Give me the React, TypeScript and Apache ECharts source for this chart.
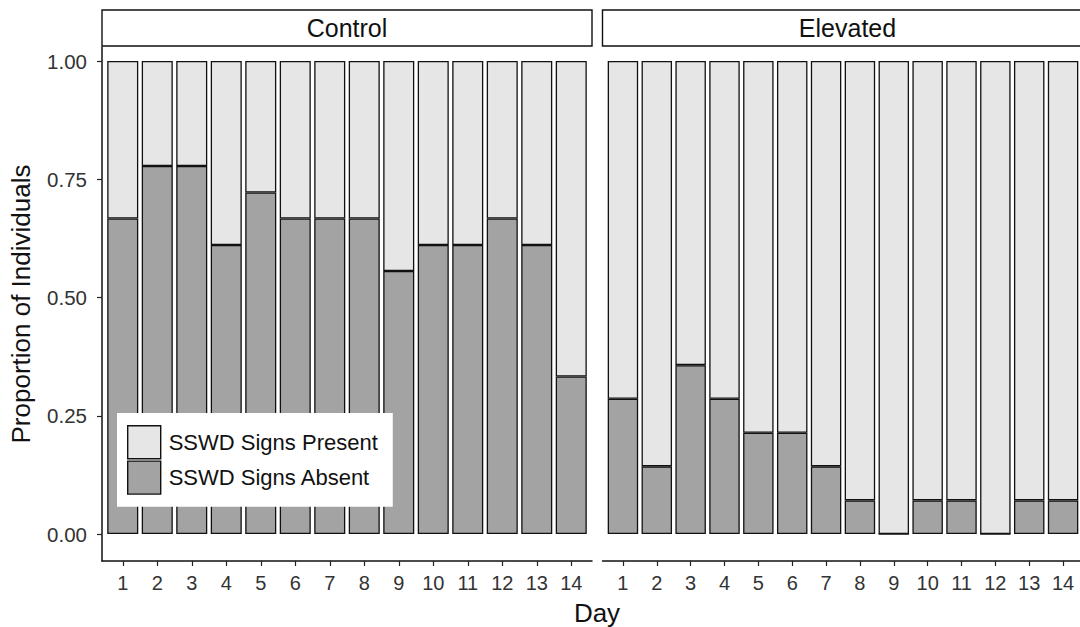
import React, { useEffect, useRef } from "react";
import * as echarts from "echarts";

const days = ["1", "2", "3", "4", "5", "6", "7", "8", "9", "10", "11", "12", "13", "14"];
const panels = ["Control", "Elevated"];
const controlAbsent = [0.667, 0.778, 0.778, 0.611, 0.722, 0.667, 0.667, 0.667, 0.556, 0.611, 0.611, 0.667, 0.611, 0.333];
const controlPresent = [0.333, 0.222, 0.222, 0.389, 0.278, 0.333, 0.333, 0.333, 0.444, 0.389, 0.389, 0.333, 0.389, 0.667];
const elevatedAbsent = [0.286, 0.143, 0.357, 0.286, 0.214, 0.214, 0.143, 0.071, 0, 0.071, 0.071, 0, 0.071, 0.071];
const elevatedPresent = [0.714, 0.857, 0.643, 0.714, 0.786, 0.786, 0.857, 0.929, 1, 0.929, 0.929, 1, 0.929, 0.929];
const seriesNames = ["SSWD Signs Present", "SSWD Signs Absent"];
const yTicks = [0, 0.25, 0.5, 0.75, 1];

const FONT = "'Liberation Sans', Arial, Helvetica, sans-serif";
const LIGHT = "#E6E6E6";
const DARK = "#A3A3A3";
const TICK_COLOR = "#333333";

export default function App() {
  const ref = useRef<HTMLDivElement>(null);

  useEffect(() => {
    if (!ref.current) return;
    const chart = echarts.init(ref.current, null, { renderer: "svg" });

    const panelLeft = [102, 602.5];
    const panelWidth = 490;
    const panelTop = 47;
    const panelBottom = 561;
    const inset = 3.5;
    const barTop = 61;
    const zeroY = 534;
    const unit = zeroY - barTop; // pixels per 1.0
    const yLow = -(panelBottom - zeroY) / unit;

    const grids: any[] = [];
    const xAxes: any[] = [];
    const yAxes: any[] = [];
    const series: any[] = [];
    const graphics: any[] = [];

    const absent = [controlAbsent, elevatedAbsent];
    const present = [controlPresent, elevatedPresent];

    panels.forEach((p, i) => {
      // inner grid for bars
      grids.push({
        left: panelLeft[i] + inset,
        top: barTop,
        width: panelWidth - 2 * inset,
        height: panelBottom - barTop,
      });
      xAxes.push({
        type: "category",
        gridIndex: i,
        data: days,
        position: "bottom",
        axisLine: { show: false, onZero: false },
        axisTick: {
          show: true,
          alignWithLabel: true,
          length: 5,
          lineStyle: { color: "#222", width: 1.2 },
        },
        axisLabel: {
          show: true,
          color: TICK_COLOR,
          fontSize: 20,
          fontFamily: FONT,
          margin: 12,
        },
        splitLine: { show: false },
      });
      yAxes.push({
        type: "value",
        gridIndex: i,
        min: yLow,
        max: 1,
        offset: inset,
        axisLine: { show: false, onZero: false },
        axisTick: {
          show: i === 0,
          length: 5,
          customValues: yTicks,
          lineStyle: { color: "#222", width: 1.2 },
        },
        axisLabel: {
          show: i === 0,
          customValues: yTicks,
          color: TICK_COLOR,
          fontSize: 20.5,
          fontFamily: FONT,
          margin: 15,
          formatter: (v: number) => v.toFixed(2),
        },
        splitLine: { show: false },
      });
      series.push({
        name: seriesNames[1],
        type: "bar",
        xAxisIndex: i,
        yAxisIndex: i,
        stack: "s" + i,
        barWidth: "90%",
        data: absent[i],
        itemStyle: { color: DARK, borderColor: "#111", borderWidth: 1.3 },
      });
      series.push({
        name: seriesNames[0],
        type: "bar",
        xAxisIndex: i,
        yAxisIndex: i,
        stack: "s" + i,
        barWidth: "90%",
        data: present[i],
        itemStyle: { color: LIGHT, borderColor: "#111", borderWidth: 1.3 },
      });

      // strip
      graphics.push({
        type: "rect",
        shape: { x: panelLeft[i], y: 10, width: panelWidth, height: 36 },
        style: { fill: "#fff", stroke: "#111", lineWidth: 1.4 },
        z: 10,
      });
      graphics.push({
        type: "text",
        x: panelLeft[i] + panelWidth / 2,
        y: 28,
        style: {
          text: p,
          fontSize: 25,
          fontFamily: FONT,
          fill: "#111",
          textAlign: "center",
          textVerticalAlign: "middle",
        },
        z: 11,
      });
    });

    // outer grids for axis lines
    panels.forEach((p, i) => {
      const gi = grids.length;
      grids.push({
        left: panelLeft[i],
        top: panelTop,
        width: panelWidth,
        height: panelBottom - panelTop,
      });
      xAxes.push({
        type: "value",
        gridIndex: gi,
        min: 0,
        max: 1,
        axisLine: { show: true, onZero: false, lineStyle: { color: "#111", width: 1.5 } },
        axisTick: { show: false },
        axisLabel: { show: false },
        splitLine: { show: false },
      });
      yAxes.push({
        type: "value",
        gridIndex: gi,
        min: 0,
        max: 1,
        axisLine: { show: i === 0, onZero: false, lineStyle: { color: "#111", width: 1.5 } },
        axisTick: { show: false },
        axisLabel: { show: false },
        splitLine: { show: false },
      });
    });

    graphics.push({
      type: "text",
      x: 597,
      y: 613,
      style: {
        text: "Day",
        fontSize: 26,
        fontFamily: FONT,
        fill: "#111",
        textAlign: "center",
        textVerticalAlign: "middle",
      },
    });
    graphics.push({
      type: "text",
      x: 21,
      y: 304,
      rotation: Math.PI / 2,
      style: {
        text: "Proportion of Individuals",
        fontSize: 26,
        fontFamily: FONT,
        fill: "#111",
        textAlign: "center",
        textVerticalAlign: "middle",
      },
    });

    chart.setOption({
      animation: false,
      backgroundColor: "#ffffff",
      grid: grids,
      xAxis: xAxes,
      yAxis: yAxes,
      series,
      graphic: graphics,
      legend: {
        data: seriesNames,
        orient: "vertical",
        left: 117,
        top: 413,
        backgroundColor: "#ffffff",
        padding: [12, 15, 12, 10],
        itemWidth: 33,
        itemHeight: 33,
        itemGap: 1,
        icon: "rect",
        itemStyle: { borderColor: "#111", borderWidth: 1.4 },
        textStyle: { fontSize: 22, fontFamily: FONT, color: "#111", padding: [0, 0, 0, 3] },
        selectedMode: false,
        z: 20,
      },
    });

    return () => chart.dispose();
  }, []);

  return (
    <div
      ref={ref}
      style={{ position: "fixed", left: 0, top: 0, width: 1080, height: 627 }}
    />
  );
}
